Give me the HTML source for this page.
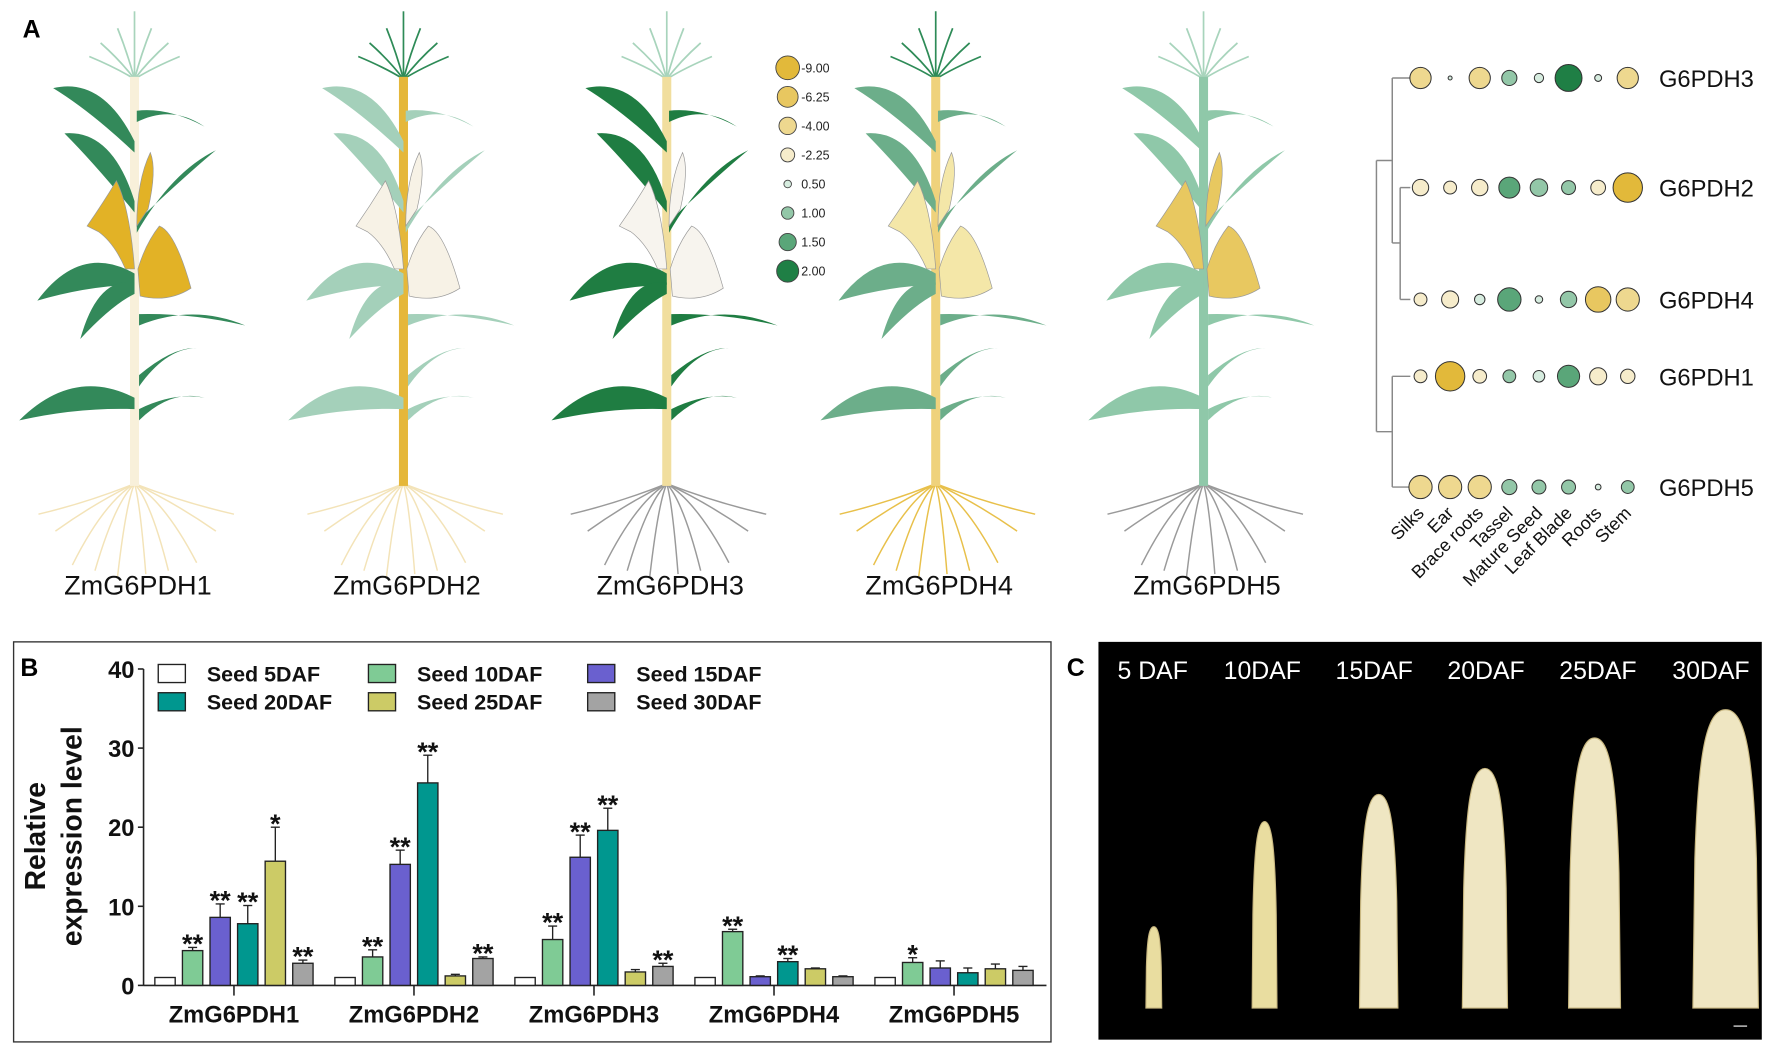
<!DOCTYPE html>
<html><head><meta charset="utf-8"><style>
html,body{margin:0;padding:0;background:#fff;}
svg{display:block;font-family:"Liberation Sans",Arial,sans-serif;}
</style></head><body>
<svg id="fig" xmlns="http://www.w3.org/2000/svg" width="1772" height="1054" viewBox="0 0 1568 932.7">
<rect x="0" y="0" width="1568" height="933" fill="#fff"/>
<text x="20" y="33" font-size="22" font-weight="bold">A</text>
<g id="plants"></g>
<g id="sizeLegend"></g>
<g id="bubble"></g>
<rect x="12" y="568" width="918" height="354" fill="none" stroke="#333" stroke-width="1.2"/>
<text x="18" y="598" font-size="22" font-weight="bold">B</text>
<g id="barchart"></g>
<text x="944" y="598" font-size="22" font-weight="bold">C</text>
<rect x="972" y="568" width="587" height="352" fill="#000"/>
<g id="ears"></g>
</svg>
<script>
const NS="http://www.w3.org/2000/svg";
function mk(tag,attrs,parent){const e=document.createElementNS(NS,tag);for(const k in attrs)e.setAttribute(k,attrs[k]);parent.appendChild(e);return e;}

/* ---------- Panel A plants ---------- */
const plantNames=["ZmG6PDH1","ZmG6PDH2","ZmG6PDH3","ZmG6PDH4","ZmG6PDH5"];
const plantX=[119,357,590,828,1065];
const leafCol=["#33895a","#a4d0ba","#1f7d42","#6cae8a","#8fc8a9"];
const stemCol=["#f8f0da","#e5b73a","#f1de9e","#efd27c","#8fc8a9"];
const earCol=["#e2b226","#f7f2e6","#f7f4ee","#f4e7a8","#e8c860"];
const rootCol=["#f3e3b8","#f3e3b8","#9a9a9a","#e8c04a","#9a9a9a"];
const tasselCol=["#a8d4bc","#2e8b57","#a8d4bc","#2e8b57","#a8d4bc"];
const leaves=[[0,125,-72,78,14],[2,98,62,112,12],[0,178,-62,118,16],[2,196,72,133,15],[0,242,-86,266,18],[0,250,-48,300,12],[4,278,98,288,16],[4,332,55,308,10],[0,352,-102,372,16],[4,362,62,352,12]];
const plantsG=document.getElementById('plants');
function leafPath(cx,b){const bx=cx+b[0],by=b[1],tx=cx+b[2],ty=b[3],w=b[4];
 const mx=(bx+tx)/2,my=(by+ty)/2-22;const dx=tx-bx,dy=ty-by,L=Math.hypot(dx,dy);const nx=-dy/L,ny=dx/L;
 return `M${bx},${by} Q${mx+nx*w},${my+ny*w} ${tx},${ty} Q${mx-nx*w*0.4},${my-ny*w*0.4+14} ${bx},${by+10} Z`;}
plantX.forEach((cx,i)=>{
 const g=mk('g',{},plantsG);
 
 
 const rg=mk('g',{stroke:rootCol[i],'stroke-width':1.3,fill:'none'},g);
 [[-70,470],[-55,500],[-35,505],[-15,510],[10,508],[30,505],[55,498],[72,470],[-85,455],[88,455]].forEach(r=>{
  mk('path',{d:`M${cx},428 Q${cx+r[0]*0.5},445 ${cx+r[0]},${r[1]}`},rg);});
 const tg=mk('g',{stroke:tasselCol[i],'stroke-width':1.5,fill:'none'},g);
 [[-40,50],[-30,38],[-15,25],[0,10],[15,25],[30,38],[40,50]].forEach(t=>{
  mk('path',{d:`M${cx},70 Q${cx+t[0]*0.4},${(70+t[1])/2} ${cx+t[0]},${t[1]}`},tg);});
 mk('rect',{x:cx-4,y:68,width:8,height:362,fill:stemCol[i]},g);
 leaves.forEach(b=>mk('path',{d:leafPath(cx,b),fill:leafCol[i]},g));
 // ears (husk shapes)
 mk('path',{d:`M${cx+2},200 Q${cx+2},160 ${cx+14},135 Q${cx+20},150 ${cx+12},185 Z`,fill:earCol[i],stroke:'#999','stroke-width':0.6},g);
 mk('path',{d:`M${cx-42},200 Q${cx-28},180 ${cx-16},160 Q${cx-4},185 ${cx},238 L${cx-8},238 Q${cx-18},215 ${cx-32},205 Z`,fill:earCol[i],stroke:'#999','stroke-width':0.6},g);
 mk('path',{d:`M${cx+3},238 Q${cx+10},215 ${cx+22},200 Q${cx+36},205 ${cx+50},255 Q${cx+30},268 ${cx+5},262 Z`,fill:earCol[i],stroke:'#999','stroke-width':0.6},g);
 const t=mk('text',{x:cx+3,y:526,'font-size':24,'text-anchor':'middle',fill:'#111'},g);
 t.textContent=plantNames[i];
 
 
});

/* ---------- Colour / size scale ---------- */
const scaleVals=[-9,-6.25,-4,-2.25,0.5,1,1.5,2];
const scaleCols=["#e2b93a","#e8c760","#eed88f","#f6eccb","#d6ecdf","#93c7a8","#5aa679","#1f7f45"];
function colOf(v){let best=0,bd=1e9;scaleVals.forEach((s,k)=>{const d=Math.abs(s-v);if(d<bd){bd=d;best=k;}});return scaleCols[best];}
function radOf(v){return v>=0?1.5+5.2*v:2+3.7*Math.sqrt(-v);}
const slg=document.getElementById('sizeLegend');
scaleVals.forEach((v,k)=>{
 const y=60+k*25.7;
 const c=mk('circle',{cx:697,cy:y,r:Math.min(10.5,radOf(v)*0.82),fill:scaleCols[k],stroke:'#444','stroke-width':0.8},slg);
 
 
 const t=mk('text',{x:709,y:y+4,'font-size':11,fill:'#222'},slg);
 t.textContent=v.toFixed(2);
 
 
});

/* ---------- Bubble chart ---------- */
const tissues=["Silks","Ear","Brace roots","Tassel","Mature Seed","Leaf Blade","Roots","Stem"];
const genes=["G6PDH3","G6PDH2","G6PDH4","G6PDH1","G6PDH5"];
const exprG6PDH3=[-4,0.05,-4,1.0,0.5,2.0,0.3,-4];
const exprG6PDH2=[-2,-1,-2,1.5,1.2,0.9,-1.5,-9];
const exprG6PDH4=[-1,-2.25,0.6,1.7,0.35,1.1,-6.25,-5];
const exprG6PDH1=[-1,-9,-1.2,0.8,0.7,1.6,-2.25,-1.4];
const exprG6PDH5=[-5,-5,-5,1.0,0.9,0.9,0.2,0.8];
const exprRows=[exprG6PDH3,exprG6PDH2,exprG6PDH4,exprG6PDH1,exprG6PDH5];
const rowY=[69,166,265,333,431];
const colX0=1257,colStep=26.2;
const bg=document.getElementById('bubble');
const dg=mk('g',{stroke:'#888','stroke-width':1.3,fill:'none'},bg);


[[1232,69,1248,69],[1239,166,1248,166],[1239,265,1248,265],[1239,166,1239,265],[1232,215,1239,215],[1232,69,1232,215],[1218,142,1232,142],[1232,333,1248,333],[1232,431,1248,431],[1232,333,1232,431],[1218,382,1232,382],[1218,142,1218,382]].forEach(l=>mk('line',{x1:l[0],y1:l[1],x2:l[2],y2:l[3]},dg));
exprRows.forEach((row,r)=>{
 row.forEach((v,c)=>{
  const e=mk('circle',{cx:colX0+c*colStep,cy:rowY[r],r:Math.min(13,radOf(v)),fill:colOf(v),stroke:'#333','stroke-width':0.9},bg);
  
  
 });
 const t=mk('text',{x:1468,y:rowY[r]+8,'font-size':21,fill:'#111'},bg);
 t.textContent=genes[r];
 
 
});
tissues.forEach((n,c)=>{
 const x=colX0+c*colStep+4,y=455;
 const t=mk('text',{x:x,y:y,'font-size':16,'text-anchor':'end',fill:'#111',transform:`rotate(-45 ${x} ${y})`},bg);
 t.textContent=n;
 
 
});

/* ---------- Panel B bar chart ---------- */
const groups=["ZmG6PDH1","ZmG6PDH2","ZmG6PDH3","ZmG6PDH4","ZmG6PDH5"];
const seriesNames=["Seed 5DAF","Seed 10DAF","Seed 15DAF","Seed 20DAF","Seed 25DAF","Seed 30DAF"];
const seriesColors=["#ffffff","#7fcb95","#6a60cf","#00978f","#cccb66","#a3a3a3"];
const vals5DAF=[1,1,1,1,1];
const vals10DAF=[4.4,3.6,5.8,6.8,2.9];
const vals15DAF=[8.6,15.3,16.2,1.1,2.2];
const vals20DAF=[7.8,25.6,19.6,3.0,1.6];
const vals25DAF=[15.7,1.2,1.7,2.1,2.1];
const vals30DAF=[2.8,3.4,2.4,1.1,1.9];
const err5DAF=[0,0,0,0,0];
const err10DAF=[0.4,0.9,1.7,0.3,0.6];
const err15DAF=[1.7,1.8,2.8,0.1,0.9];
const err20DAF=[2.3,3.5,2.8,0.4,0.6];
const err25DAF=[4.3,0.2,0.3,0.1,0.6];
const err30DAF=[0.4,0.2,0.4,0.1,0.5];
const sig5DAF=["","","","",""];
const sig10DAF=["**","**","**","**","*"];
const sig15DAF=["**","**","**","",""];
const sig20DAF=["**","**","**","**",""];
const sig25DAF=["*","","","",""];
const sig30DAF=["**","**","**","",""];
const yTicks=[0,10,20,30,40];
const seriesVals=[vals5DAF,vals10DAF,vals15DAF,vals20DAF,vals25DAF,vals30DAF];
const seriesErr=[err5DAF,err10DAF,err15DAF,err20DAF,err25DAF,err30DAF];
const seriesSig=[sig5DAF,sig10DAF,sig15DAF,sig20DAF,sig25DAF,sig30DAF];
const Y0=872,Y1=592,YMAX=40,AX=127;
function yS(v){return Y0-(v/YMAX)*(Y0-Y1);}
function gX(i){return 207+159.3*i;}
function bX(i,j){return gX(i)+(j-2.5)*24.4;}
const bc=document.getElementById('barchart');
const ax=mk('g',{stroke:'#222','stroke-width':1.4},bc);


mk('line',{x1:AX,y1:Y1,x2:AX,y2:Y0},ax);
mk('line',{x1:AX,y1:Y0,x2:926,y2:Y0},ax);
yTicks.forEach(v=>{
 mk('line',{x1:AX-5,y1:yS(v),x2:AX,y2:yS(v)},ax);
 const t=mk('text',{x:AX-8,y:yS(v)+8,'font-size':21,'font-weight':'bold','text-anchor':'end',fill:'#111',stroke:'none'},bc);
 t.textContent=v;
 
 
});
groups.forEach((g,i)=>{
 mk('line',{x1:gX(i),y1:Y0,x2:gX(i),y2:Y0+9},ax);
 const t=mk('text',{x:gX(i),y:905,'font-size':21,'font-weight':'bold','text-anchor':'middle',fill:'#111'},bc);
 t.textContent=g;
 
 
});
const yl=mk('text',{x:40,y:740,'font-size':25,'font-weight':'bold','text-anchor':'middle',transform:'rotate(-90 40 740)',fill:'#111'},bc);
yl.textContent='Relative';


const yl2=mk('text',{x:72,y:740,'font-size':25,'font-weight':'bold','text-anchor':'middle',transform:'rotate(-90 72 740)',fill:'#111'},bc);
yl2.textContent='expression level';


seriesVals.forEach((arr,j)=>{
 arr.forEach((v,i)=>{
  const x=bX(i,j),w=18,top=yS(v);
  const r=mk('rect',{x:x-w/2,y:top,width:w,height:Y0-top,fill:seriesColors[j],stroke:'#222','stroke-width':1.2},bc);
  
  
  const e=seriesErr[j][i],et=yS(v+e);
  if(e>0){mk('line',{x1:x,y1:top,x2:x,y2:et,stroke:'#222','stroke-width':1.2},bc);
   mk('line',{x1:x-4,y1:et,x2:x+4,y2:et,stroke:'#222','stroke-width':1.2},bc);}
  const s=seriesSig[j][i];
  if(s){const t=mk('text',{x:x,y:et+5,'font-size':24,'font-weight':'bold','text-anchor':'middle',fill:'#111'},bc);
   t.textContent=s;
   
   }
 });
});
seriesNames.forEach((n,j)=>{
 const col=[0,1,2,0,1,2][j],row=j<3?0:1;
 const lx=[140,326,520][col],ly=[596,621][row];
 const r=mk('rect',{x:lx,y:ly-8,width:24,height:16,fill:seriesColors[j],stroke:'#222','stroke-width':1.2},bc);
 
 
 const t=mk('text',{x:lx+43,y:ly+7,'font-size':19,'font-weight':'bold',fill:'#111'},bc);
 t.textContent=n;
 
 
});

/* ---------- Panel C ears ---------- */
const earLabels=["5 DAF","10DAF","15DAF","20DAF","25DAF","30DAF"];
const earLabelX=[1020,1117,1216,1315,1414,1514];
const earCX=[1021,1119,1220,1314,1411,1527];
const earTop=[820,727,703,680,653,628];
const earW=[14,22,34,40,46,58];
const eg=document.getElementById('ears');
earLabels.forEach((l,k)=>{
 const t=mk('text',{x:earLabelX[k],y:601,'font-size':22,'text-anchor':'middle',fill:'#fff'},eg);
 t.textContent=l;
 
 
 const cx=earCX[k],w=earW[k],top=earTop[k],bot=892,h=bot-top;
 const p=mk('path',{d:`M${cx-w/2},${bot} L${cx-w*0.47},${top+h*0.5} C${cx-w*0.42},${top+h*0.15} ${cx-w*0.3},${top} ${cx},${top} C${cx+w*0.3},${top} ${cx+w*0.42},${top+h*0.15} ${cx+w*0.47},${top+h*0.5} L${cx+w/2},${bot} Z`,fill:k<2?'#e9dda0':'#efe6c2',stroke:'#c8b780','stroke-width':1},eg);
 
 
});
mk('line',{x1:1534,y1:908,x2:1546,y2:908,stroke:'#fff','stroke-width':1},eg);
</script>
</body></html>
